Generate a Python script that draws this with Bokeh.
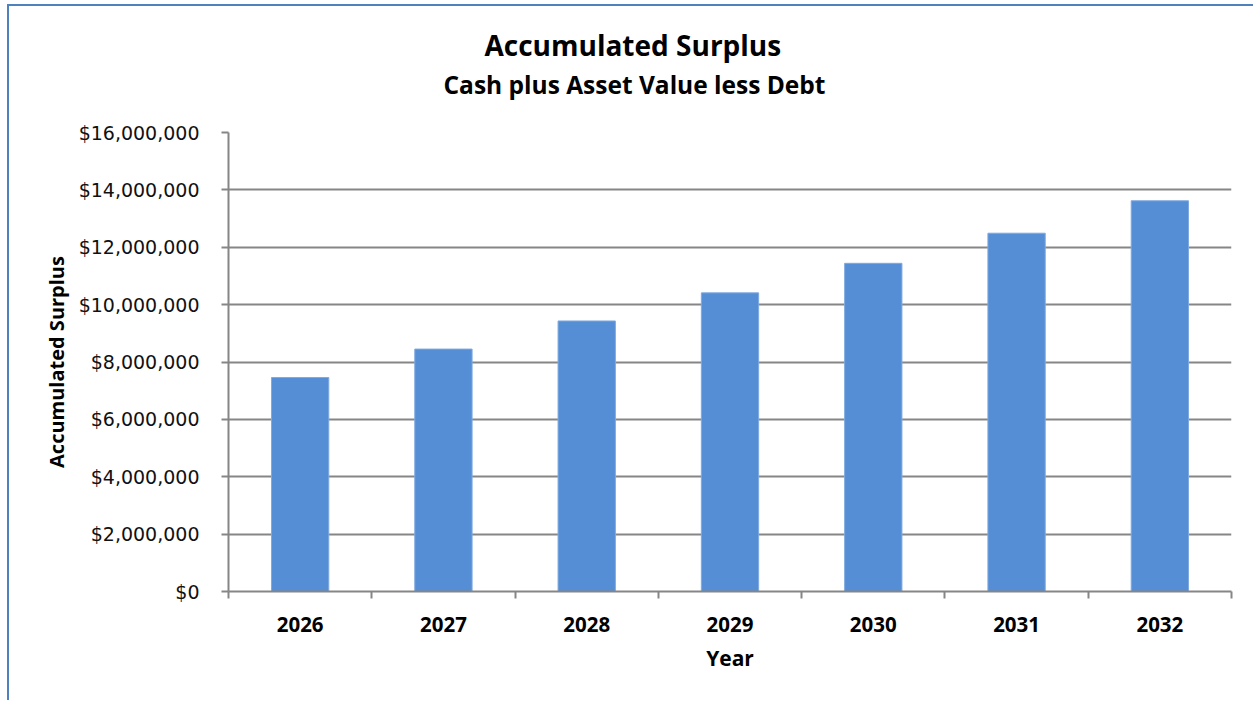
from bokeh.plotting import figure
from bokeh.models import Range1d, FixedTicker, NumeralTickFormatter, Title, ColumnDataSource
from bokeh.embed import file_html
from bokeh.resources import INLINE

# ---- data ----
years = ["2026", "2027", "2028", "2029", "2030", "2031", "2032"]
surplus = [7460000, 8450000, 9430000, 10410000, 11440000, 12490000, 13620000]
y_ticks = [0, 2000000, 4000000, 6000000, 8000000, 10000000, 12000000, 14000000, 16000000]
title_text = "Accumulated Surplus"
subtitle_text = "Cash plus Asset Value less Debt"
x_title = "Year"
y_title = "Accumulated Surplus"

FONT = "Open Sans"
TICK_FONT = "DejaVu Sans"
GRAY = "#868686"
BAR = "#558ED5"
FRAME = "#4F81BD"

W, H = 1246, 696
ML, MR, MT, MB = 219, 24, 126, 111
n = len(years)
ymax = y_ticks[-1]

p = figure(width=W, height=H, output_backend="svg", toolbar_location=None, title=None,
           x_range=Range1d(0, n), y_range=Range1d(0, ymax),
           min_border_left=ML, min_border_right=MR, min_border_top=MT, min_border_bottom=MB)
p.outline_line_color = None
p.background_fill_color = "white"
p.border_fill_color = "white"
p.styles = {"margin-left": "7px", "margin-top": "4px",
            "border-left": f"2px solid {FRAME}", "border-top": f"2px solid {FRAME}"}

xs = [i + 0.5 for i in range(n)]
src = ColumnDataSource(dict(x=xs, top=surplus, year=years))
p.vbar(x="x", top="top", bottom=0, width=0.4, source=src,
       fill_color=BAR, line_color="#7FAAE0", line_width=1)

# x axis: labels at category centres, tick marks on category boundaries
xa = p.xaxis[0]
xa.ticker = FixedTicker(ticks=xs, minor_ticks=list(range(n + 1)))
xa.major_label_overrides = {x: y for x, y in zip(xs, years)}
xa.major_tick_line_color = None
xa.major_tick_out = 7
xa.major_tick_in = 0
xa.minor_tick_line_color = GRAY
xa.minor_tick_line_width = 2
xa.minor_tick_out = 7
xa.minor_tick_in = 0
xa.axis_line_color = GRAY
xa.axis_line_width = 2
xa.major_label_text_font = FONT
xa.major_label_text_font_style = "bold"
xa.major_label_text_font_size = "20.5px"
xa.major_label_text_color = "black"
xa.major_label_standoff = 18
xa.axis_label = x_title
xa.axis_label_text_font = FONT
xa.axis_label_text_font_style = "bold"
xa.axis_label_text_font_size = "21px"
xa.axis_label_text_color = "black"
xa.axis_label_standoff = 9

# y axis
ya = p.yaxis[0]
ya.ticker = FixedTicker(ticks=y_ticks)
ya.formatter = NumeralTickFormatter(format="$0,0")
ya.major_tick_line_color = GRAY
ya.major_tick_line_width = 2
ya.major_tick_out = 7
ya.major_tick_in = 0
ya.minor_tick_line_color = None
ya.axis_line_color = GRAY
ya.axis_line_width = 2
ya.major_label_text_font = TICK_FONT
ya.major_label_text_font_size = "19px"
ya.major_label_text_color = "#111111"
ya.major_label_standoff = 22
ya.axis_label = y_title
ya.axis_label_text_font = FONT
ya.axis_label_text_font_style = "bold"
ya.axis_label_text_font_size = "20px"
ya.axis_label_text_color = "black"
ya.axis_label_standoff = 6

p.xgrid.visible = False
p.ygrid.ticker = FixedTicker(ticks=y_ticks)
p.ygrid.grid_line_color = GRAY
p.ygrid.grid_line_width = 2

# titles: spacer nearest the plot, then subtitle, then main title
p.add_layout(Title(text=" ", text_font=FONT, text_font_size="10px", standoff=15), "above")
p.add_layout(Title(text=subtitle_text, text_font=FONT, text_font_style="bold",
                   text_font_size="24.5px", text_color="black", align="left",
                   offset=215, standoff=2), "above")
p.add_layout(Title(text=title_text, text_font=FONT, text_font_style="bold",
                   text_font_size="28px", text_color="black", align="left",
                   offset=256, standoff=2), "above")

open("out.html", "w").write(file_html(p, INLINE))
